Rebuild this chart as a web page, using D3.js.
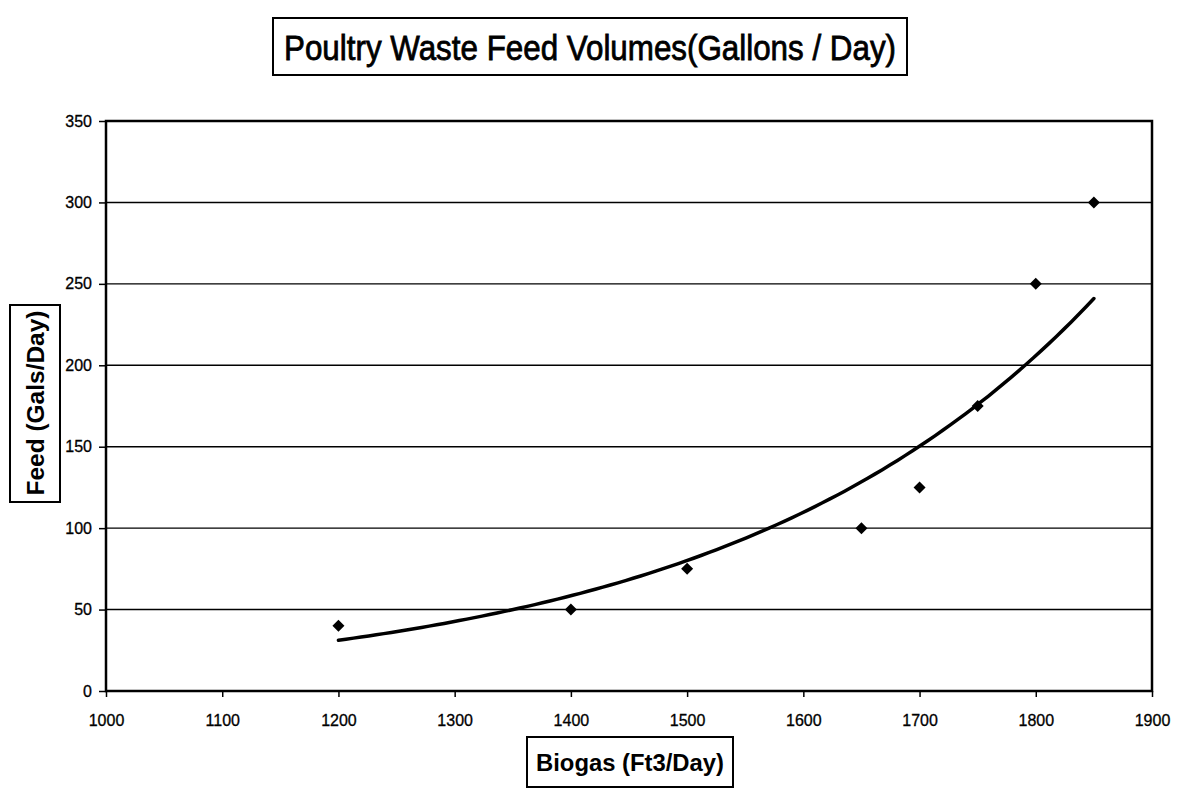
<!DOCTYPE html>
<html><head><meta charset="utf-8">
<script src="https://cdn.jsdelivr.net/npm/d3@7"></script>
<style>body{margin:0;background:#fff}svg{display:block}</style>
</head><body>
<svg id="c" width="1179" height="789"></svg>
<script>
const biogas = [1200, 1400, 1500, 1650, 1700, 1750, 1800, 1850];
const feed = [40, 50, 75, 100, 125, 175, 250, 300];
const xTicks = [1000, 1100, 1200, 1300, 1400, 1500, 1600, 1700, 1800, 1900];
const yTicks = [0, 50, 100, 150, 200, 250, 300, 350];
const titleText = "Poultry Waste Feed Volumes(Gallons / Day)";
const xTitle = "Biogas (Ft3/Day)";
const yTitle = "Feed (Gals/Day)";

const svg = d3.select("#c");
const L = 106, R = 1152, T = 121, B = 691;
const x = d3.scaleLinear().domain([1000, 1900]).range([L, R]);
const y = d3.scaleLinear().domain([0, 350]).range([B, T]);
const font = "'Liberation Sans', Arial, sans-serif";

// gridlines
svg.append("g").selectAll("line").data(yTicks.filter(d => d > 0 && d < 350)).join("line")
  .attr("x1", L).attr("x2", R).attr("y1", d => y(d)).attr("y2", d => y(d))
  .attr("stroke", "#000").attr("stroke-width", 1.4);

// axes
const ya = svg.append("g").attr("transform", `translate(${L},0)`)
  .call(d3.axisLeft(y).tickValues(yTicks).tickSize(7).tickPadding(7).tickFormat(d3.format("d")));
const xa = svg.append("g").attr("transform", `translate(0,${B})`)
  .call(d3.axisBottom(x).tickValues(xTicks).tickSize(6).tickPadding(18).tickFormat(d3.format("d")));
[ya, xa].forEach(a => {
  a.select(".domain").remove();
  a.selectAll("line").attr("stroke", "#000").attr("stroke-width", 1.5);
  a.selectAll("text").attr("font-family", font).attr("font-size", 16).attr("fill", "#000")
    .attr("stroke", "#000").attr("stroke-width", 0.3);
});

// frame
svg.append("rect").attr("x", L).attr("y", T).attr("width", R - L).attr("height", B - T)
  .attr("fill", "none").attr("stroke", "#000").attr("stroke-width", 2.5);

// exponential trendline fitted from data
const lx = biogas, ly = feed.map(Math.log);
const mx = d3.mean(lx), my = d3.mean(ly);
const b = d3.sum(lx.map((v, i) => (v - mx) * (ly[i] - my))) / d3.sum(lx.map(v => (v - mx) ** 2));
const a = my - b * mx;
const xs = d3.range(0, 101).map(i => biogas[0] + (biogas[biogas.length - 1] - biogas[0]) * i / 100);
svg.append("path").datum(xs)
  .attr("d", d3.line().x(d => x(d)).y(d => y(Math.exp(a + b * d))))
  .attr("fill", "none").attr("stroke", "#000").attr("stroke-width", 3.5).attr("stroke-linecap", "round");

// markers (square diamonds)
svg.append("g").selectAll("path").data(biogas).join("path")
  .attr("transform", (d, i) => `translate(${x(d)},${y(feed[i])}) rotate(45)`)
  .attr("d", d3.symbol(d3.symbolSquare, 72))
  .attr("fill", "#000");

// title box
svg.append("rect").attr("x", 273).attr("y", 18).attr("width", 634).attr("height", 57)
  .attr("fill", "#fff").attr("stroke", "#000").attr("stroke-width", 2);
svg.append("text").attr("x", 590).attr("y", 60).attr("text-anchor", "middle")
  .attr("font-family", font).attr("font-size", 35).attr("fill", "#000")
  .attr("stroke", "#000").attr("stroke-width", 0.8)
  .attr("textLength", 612).attr("lengthAdjust", "spacingAndGlyphs")
  .text(titleText);

// x title box
svg.append("rect").attr("x", 527).attr("y", 737).attr("width", 206).attr("height", 50)
  .attr("fill", "#fff").attr("stroke", "#000").attr("stroke-width", 2);
svg.append("text").attr("x", 630).attr("y", 771).attr("text-anchor", "middle")
  .attr("font-family", font).attr("font-size", 24).attr("font-weight", "bold").attr("fill", "#000")
  .attr("textLength", 188).attr("lengthAdjust", "spacingAndGlyphs")
  .text(xTitle);

// y title box
svg.append("rect").attr("x", 10).attr("y", 305).attr("width", 50).attr("height", 197)
  .attr("fill", "#fff").attr("stroke", "#000").attr("stroke-width", 2);
svg.append("text").attr("transform", "translate(44,403) rotate(-90)").attr("text-anchor", "middle")
  .attr("font-family", font).attr("font-size", 24).attr("font-weight", "bold").attr("fill", "#000")
  .attr("textLength", 185).attr("lengthAdjust", "spacingAndGlyphs")
  .text(yTitle);
</script>
</body></html>
